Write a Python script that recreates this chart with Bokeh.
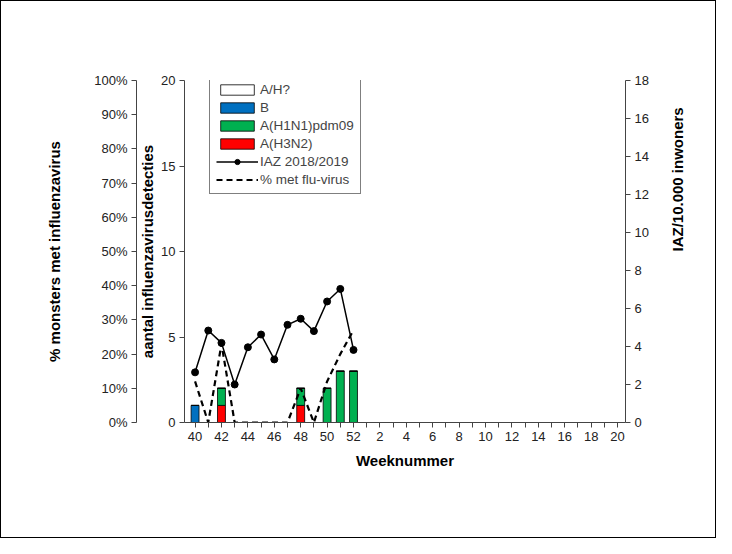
import math
from bokeh.plotting import figure
from bokeh.models import Range1d, LinearAxis, FixedTicker, Legend, LegendItem, NumeralTickFormatter
from bokeh.embed import file_html
from bokeh.resources import INLINE

weeks = ["40", "41", "42", "43", "44", "45", "46", "47", "48", "49", "50", "51", "52",
         "1", "2", "3", "4", "5", "6", "7", "8", "9", "10", "11", "12", "13", "14",
         "15", "16", "17", "18", "19", "20"]
h3n2 = [0, 0, 1, 0, 0, 0, 0, 0, 1, 0, 0, 0, 0]
h1n1 = [0, 0, 1, 0, 0, 0, 0, 0, 1, 0, 2, 3, 3]
b_vir = [1, 0, 0, 0, 0, 0, 0, 0, 0, 0, 0, 0, 0]
ah = [0, 0, 0, 0, 0, 0, 0, 0, 0, 0, 0, 0, 0]
iaz = [2.64, 4.84, 4.19, 2.0, 3.96, 4.63, 3.32, 5.14, 5.46, 4.81, 6.37, 7.03, 3.82]
pct = [0.12, 0.0, 0.23, 0.0, 0.0, 0.0, 0.0, 0.0, 0.10, 0.0, 0.12, 0.20, 0.27]

FONT = "Liberation Sans"
xs = list(range(len(h3n2)))

p = figure(width=716, height=538, output_backend="svg", toolbar_location=None,
           x_range=Range1d(-0.8, 32.6), y_range=Range1d(0, 20),
           min_border_left=183, min_border_right=92, min_border_top=79, min_border_bottom=117,
           outline_line_color=None, border_fill_color="white")
p.extra_y_ranges = {"pct": Range1d(0, 1), "iaz": Range1d(0, 18)}
p.grid.grid_line_color = None

# gestapelde staven
bw = 0.6
bottom_b = [a + c for a, c in zip(h3n2, h1n1)]
r_red = p.vbar(x=xs, top=h3n2, bottom=0, width=bw, fill_color="#ff0000", line_color="black", line_width=0.8)
r_grn = p.vbar(x=xs, top=bottom_b, bottom=h3n2, width=bw, fill_color="#00b050", line_color="black", line_width=0.8)
top_b = [a + c for a, c in zip(bottom_b, b_vir)]
r_blu = p.vbar(x=xs, top=top_b, bottom=bottom_b, width=bw, fill_color="#0070c0", line_color="black", line_width=0.8)
top_ah = [a + c for a, c in zip(top_b, ah)]
r_wht = p.vbar(x=xs, top=top_ah, bottom=top_b, width=bw, fill_color="white", line_color="black", line_width=0.8)

r_pct = p.line(xs, pct, y_range_name="pct", line_color="black", line_width=2.2, line_dash="6 4")
r_iaz = p.line(xs, iaz, y_range_name="iaz", line_color="black", line_width=1.5)
r_dot = p.scatter(xs, iaz, y_range_name="iaz", size=7, color="black")

# assen
p.yaxis.ticker = FixedTicker(ticks=[0, 5, 10, 15, 20])
p.yaxis.axis_label = "aantal influenzavirusdetecties"

pax = LinearAxis(y_range_name="pct", ticker=FixedTicker(ticks=[i / 10 for i in range(11)]),
                 formatter=NumeralTickFormatter(format="0%"), axis_label="% monsters met influenzavirus")
p.add_layout(pax, "left")
rax = LinearAxis(y_range_name="iaz", ticker=FixedTicker(ticks=list(range(0, 19, 2))),
                 axis_label="IAZ/10.000 inwoners", axis_label_orientation=math.pi / 2)
p.add_layout(rax, "right")

p.xaxis.ticker = FixedTicker(ticks=list(range(len(weeks))))
p.xaxis.major_label_overrides = {i: (w if i % 2 == 0 else "") for i, w in enumerate(weeks)}
p.xaxis.axis_label = "Weeknummer"

for ax in p.axis:
    ax.axis_line_color = "#444444"
    ax.major_tick_line_color = "#444444"
    ax.minor_tick_line_color = None
    ax.major_tick_out = 5
    ax.major_tick_in = 0
    ax.major_label_text_font = FONT
    ax.major_label_text_font_size = "13px"
    ax.major_label_text_color = "#222222"
    ax.axis_label_text_font = FONT
    ax.axis_label_text_font_size = "15px"
    ax.axis_label_text_font_style = "bold"
    ax.axis_label_text_color = "black"
    ax.axis_label_standoff = 8
    ax.major_label_standoff = 4
p.yaxis[0].axis_label_standoff = 2
pax.axis_label_standoff = 28
rax.axis_label_standoff = 26

legend = Legend(items=[
    LegendItem(label="A/H?", renderers=[r_wht]),
    LegendItem(label="B", renderers=[r_blu]),
    LegendItem(label="A(H1N1)pdm09", renderers=[r_grn]),
    LegendItem(label="A(H3N2)", renderers=[r_red]),
    LegendItem(label="IAZ 2018/2019", renderers=[r_iaz, r_dot]),
    LegendItem(label="% met flu-virus", renderers=[r_pct]),
], location=(25, 228), border_line_color="black", border_line_width=1,
    label_text_font=FONT, label_text_font_size="13.5px", glyph_height=13, glyph_width=42,
    label_height=15, spacing=3, padding=6, margin=0, label_standoff=2, background_fill_alpha=1)
p.add_layout(legend)

p.styles = {"border": "1px solid black"}

open("out.html", "w").write(file_html(p, INLINE))
